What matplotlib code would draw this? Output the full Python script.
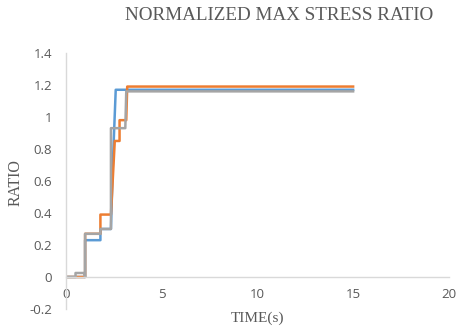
import numpy as np
from matplotlib import pyplot as plt
from matplotlib.ticker import FuncFormatter

# step histories of the max stress ratio for the three runs
blue_t = [0, 1.0, 1.0, 1.8, 1.8, 2.35, 2.45, 2.6, 15]
blue_r = [0, 0, 0.23, 0.23, 0.30, 0.30, 0.71, 1.17, 1.17]

orange_t = [0, 1.0, 1.0, 1.8, 1.8, 2.35, 2.55, 2.8, 2.8, 3.15, 3.2, 15]
orange_r = [0, 0, 0.27, 0.27, 0.39, 0.39, 0.85, 0.85, 0.98, 0.98, 1.19, 1.19]

gray_t = [0, 0.5, 0.5, 0.95, 1.0, 1.0, 1.8, 1.8, 2.35, 2.35, 3.1, 3.15, 15]
gray_r = [0, 0, 0.025, 0.025, 0, 0.27, 0.27, 0.30, 0.30, 0.93, 0.93, 1.16, 1.16]

x_ticks = [0, 5, 10, 15, 20]
y_ticks = [-0.2, 0, 0.2, 0.4, 0.6, 0.8, 1.0, 1.2, 1.4]

label_color = '#595959'
axis_color = '#D9D9D9'

fig = plt.figure(figsize=(4.58, 3.31), dpi=100)
ax = fig.add_axes([0.144, 0.0665, 0.836, 0.7735])

ax.plot(blue_t, blue_r, color='#5B9BD5', linewidth=1.8)
ax.plot(orange_t, orange_r, color='#ED7D31', linewidth=1.8)
ax.plot(gray_t, gray_r, color='#A5A5A5', linewidth=1.8)

ax.set_xlim(0, 20)
ax.set_ylim(-0.2, 1.4)
ax.set_xticks(x_ticks)
ax.set_yticks(y_ticks)
ax.yaxis.set_major_formatter(FuncFormatter(lambda v, p: '%g' % round(v, 2)))

for side in ['top', 'right']:
    ax.spines[side].set_visible(False)
ax.spines['left'].set_position(('data', 0))
ax.spines['bottom'].set_position(('data', 0))
for side in ['left', 'bottom']:
    ax.spines[side].set_color(axis_color)
    ax.spines[side].set_linewidth(1.0)

ax.tick_params(axis='both', length=0, labelcolor=label_color, labelsize=9.5)
ax.tick_params(axis='x', pad=8)
ax.tick_params(axis='y', pad=10)
for lbl in ax.get_xticklabels() + ax.get_yticklabels():
    lbl.set_fontfamily('Open Sans')

fig.text(0.609, 0.953, 'NORMALIZED MAX STRESS RATIO', ha='center', va='center',
         fontsize=13.8, family='Liberation Serif', color=label_color)
fig.text(0.563, 0.04, 'TIME(s)', ha='center', va='center',
         fontsize=11, family='Liberation Serif', color=label_color)
fig.text(0.033, 0.447, 'RATIO', ha='center', va='center', rotation=90,
         fontsize=11.5, family='Liberation Serif', color=label_color)

fig.savefig('out.png', dpi=100)
